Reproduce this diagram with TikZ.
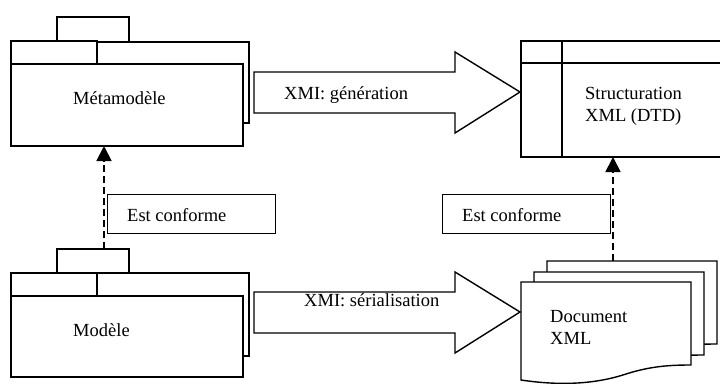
\documentclass[tikz,border=0pt]{standalone}
\usepackage{fontspec}
\setmainfont{Liberation Serif}
\usetikzlibrary{arrows.meta}

% One sheet of the stacked "document" symbol, top-left corner at #1
\newcommand\docsheet[1]{%
  \filldraw[flow, shift={#1}] (0,0) -- (170,0) -- (170,83)
    .. controls (150,83) and (130,84) .. (105,92)
    .. controls (75,102) and (40,104) .. (0,98) -- cycle;}

\begin{document}
\begin{tikzpicture}[x=1pt,y=-1pt,
  pkg/.style={draw=black, fill=white, line width=1.4pt, inner sep=0pt,
              outer sep=0pt, anchor=north west},
  lbl/.style={font=\fontsize{18.5}{22}\selectfont, inner sep=0pt,
              anchor=west, align=left},
  note/.style={draw=black, fill=white, line width=0.8pt, inner sep=0pt,
               outer sep=0pt, anchor=north west},
  flow/.style={draw=black, fill=white, line width=1.4pt, line join=miter},
  conf/.style={line width=1.8pt, dash pattern=on 7pt off 4pt,
               -{Triangle[length=15pt,width=15pt]}}
]
\useasboundingbox (0,0) rectangle (720,383);

% Metamodel package
\node[pkg, minimum width=238pt, minimum height=81pt] (metaback) at (11,42) {};
\node[pkg, minimum width=72pt, minimum height=25pt] (metatop) at (57,17) {};
\node[pkg, minimum width=86pt, minimum height=23pt] (metatab) at (11,41) {};
\node[pkg, minimum width=232pt, minimum height=82pt] (meta) at (11,64) {};
\node[lbl] (metaname) at (73,98) {Métamodèle};

% Model package
\node[pkg, minimum width=238pt, minimum height=83pt] (modback) at (11,273) {};
\node[pkg, minimum width=72pt, minimum height=24pt] (modtop) at (57,249) {};
\node[pkg, minimum width=86pt, minimum height=23pt] (modtab) at (11,273) {};
\node[pkg, minimum width=232pt, minimum height=81pt] (model) at (11,296) {};
\node[lbl] (modname) at (73,330) {Modèle};

% DTD structure box
\node[pkg, minimum width=202pt, minimum height=116pt] (dtd) at (521,41) {};
\draw[line width=1.4pt] (521,63) -- (723,63);
\draw[line width=1.4pt] (562,41) -- (562,157);
\node[lbl] (dtdname) at (585,106) {Structuration\\XML (DTD)};

% XML document stack
\docsheet{(547,261)}
\docsheet{(534,272)}
\docsheet{(521,282)}
\node[lbl] (docname) at (550,327) {Document\\XML};

% Transformation arrows
\draw[flow] (254,72) -- (455,72) -- (455,52) -- (520,92) -- (455,133)
  -- (455,113) -- (254,113) -- cycle;
\node[lbl] (gen) at (284,95) {XMI: génération};
\draw[flow] (254,292) -- (455,292) -- (455,272) -- (520,312) -- (455,353)
  -- (455,333) -- (254,333) -- cycle;
\node[lbl] (ser) at (304,300) {XMI: sérialisation};

% Conformance relations
\coordinate (modTop) at (104,249);
\draw[conf] (modTop) -- (modTop |- meta.south);
\coordinate (docTop) at (613,261);
\draw[conf] (docTop) -- (docTop |- dtd.south);

\node[note, minimum width=168pt, minimum height=39pt] (conf1) at (107,194) {};
\node[lbl] (conf1txt) at (127,215) {Est conforme};
\node[note, minimum width=168pt, minimum height=39pt] (conf2) at (442,194) {};
\node[lbl] (conf2txt) at (462,215) {Est conforme};
\end{tikzpicture}
\end{document}
